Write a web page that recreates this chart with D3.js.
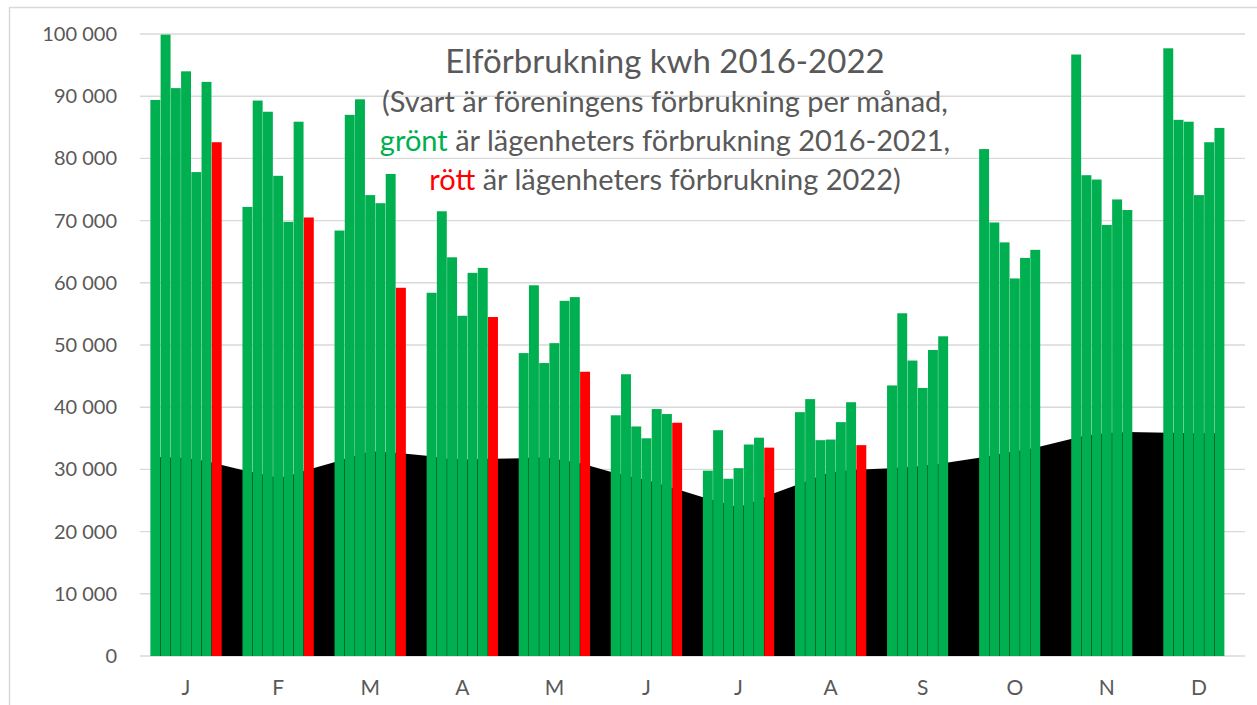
<!DOCTYPE html>
<html>
<head>
<meta charset="utf-8">
<script src="https://cdn.jsdelivr.net/npm/d3@7"></script>
<style>
  body { margin: 0; background: #fff; }
  text { font-family: Lato, "Open Sans", sans-serif; }
</style>
</head>
<body>
<svg id="chart" width="1257" height="705"></svg>
<script>
// months on the x axis, years = bars inside each month
var months = ["J", "F", "M", "A", "M", "J", "J", "A", "S", "O", "N", "D"];
var years = [2016, 2017, 2018, 2019, 2020, 2021, 2022];

// lägenheters förbrukning (kwh), one array per year, Jan..Dec
var lgh2016 = [89400, 72200, 68400, 58400, 48700, 38700, 29800, 39200, 43500, 81500, 96700, 97700];
var lgh2017 = [99900, 89300, 87000, 71500, 59600, 45300, 36300, 41300, 55100, 69700, 77300, 86200];
var lgh2018 = [91300, 87500, 89500, 64100, 47100, 36900, 28500, 34700, 47500, 66500, 76600, 85900];
var lgh2019 = [94000, 77200, 74100, 54700, 50300, 35000, 30200, 34800, 43100, 60700, 69300, 74100];
var lgh2020 = [77800, 69800, 72800, 61600, 57100, 39700, 34000, 37600, 49200, 64000, 73400, 82600];
var lgh2021 = [92300, 85900, 77500, 62400, 57700, 38900, 35100, 40800, 51400, 65300, 71700, 84900];
var lgh2022 = [82600, 70500, 59200, 54500, 45700, 37500, 33500, 33900, null, null, null, null];

// föreningens förbrukning (kwh), the black area
var for2016 = [32000, 29700, 31400, 32100, 31800, 29400, 25300, 27700, 30200, 32000, 35100, 35900];
var for2017 = [31900, 29400, 32000, 31800, 31900, 29000, 24900, 28300, 30350, 32300, 35500, 35900];
var for2018 = [31900, 29000, 32400, 31700, 31900, 28600, 24300, 29000, 30400, 32600, 35600, 35800];
var for2019 = [31800, 28700, 32900, 31600, 31700, 28300, 23900, 29500, 30600, 32900, 35900, 35800];
var for2020 = [31600, 28900, 32800, 31600, 31400, 27800, 24500, 29700, 30800, 33200, 35900, 35800];
var for2021 = [31300, 29500, 32700, 31700, 31200, 27300, 25100, 29900, 31000, 33500, 36000, 35800];
var for2022 = [30900, 30000, 32600, 31700, 30800, 26800, 25900, 30000, null, null, null, null];

var yTicks = [0, 10000, 20000, 30000, 40000, 50000, 60000, 70000, 80000, 90000, 100000];

var lgh = [lgh2016, lgh2017, lgh2018, lgh2019, lgh2020, lgh2021, lgh2022];
var forening = [for2016, for2017, for2018, for2019, for2020, for2021, for2022];

var svg = d3.select("#chart");
var plotLeft = 140, plotRight = 1245, plotTop = 34, plotBottom = 656;
var slotsPerMonth = 9; // gap, 7 years, gap

var x = d3.scaleBand()
  .domain(d3.range(months.length * slotsPerMonth))
  .range([plotLeft, plotRight])
  .padding(0);
var xMonth = d3.scaleBand()
  .domain(d3.range(months.length))
  .range([plotLeft, plotRight]);
var y = d3.scaleLinear().domain([0, 100000]).range([plotBottom, plotTop]);

var bars = [], area = [];
months.forEach(function(m, mi) {
  years.forEach(function(yr, k) {
    var slot = mi * slotsPerMonth + 1 + k;
    if (lgh[k][mi] != null) bars.push({ slot: slot, value: lgh[k][mi], year: yr });
    if (forening[k][mi] != null) area.push({ slot: slot, value: forening[k][mi] });
  });
});

// chart border (cropped frame)
svg.append("path")
  .attr("d", "M9.5,705 V7.5 H1257")
  .attr("fill", "none")
  .attr("stroke", "#d9d9d9")
  .attr("stroke-width", 1.5);

// gridlines
svg.append("g").selectAll("line")
  .data(yTicks)
  .enter().append("line")
    .attr("x1", plotLeft).attr("x2", plotRight)
    .attr("y1", function(d) { return y(d); })
    .attr("y2", function(d) { return y(d); })
    .attr("stroke", "#d9d9d9")
    .attr("stroke-width", 1.4);

// y axis labels
var fmt = d3.formatLocale({ decimal: ",", thousands: " ", grouping: [3], currency: ["", ""] }).format(",d");
var yAxis = svg.append("g")
  .attr("transform", "translate(" + plotLeft + ",0)")
  .call(d3.axisLeft(y).tickValues(yTicks).tickFormat(fmt).tickSize(0).tickPadding(23));
yAxis.select(".domain").remove();
yAxis.selectAll("text")
  .attr("fill", "#595959")
  .style("font-size", "20px")
  .style("font-family", "Lato, 'Open Sans', sans-serif");

// black area
var bw = x.bandwidth();
svg.append("path")
  .datum(area)
  .attr("fill", "#000")
  .attr("d", d3.area()
    .x(function(d) { return x(d.slot) + bw / 2; })
    .y0(y(0))
    .y1(function(d) { return y(d.value); }));

// bars (thin seam between them lets the background show through)
svg.append("g").selectAll("rect")
  .data(bars)
  .enter().append("rect")
    .attr("x", function(d) { return x(d.slot) + 0.15; })
    .attr("width", bw - 0.3)
    .attr("y", function(d) { return y(d.value); })
    .attr("height", function(d) { return y(0) - y(d.value); })
    .attr("fill", function(d) { return d.year === 2022 ? "#ff0000" : "#00b050"; });

// month labels
var xAxis = svg.append("g")
  .attr("transform", "translate(0," + plotBottom + ")")
  .call(d3.axisBottom(xMonth).tickSize(0).tickPadding(24)
    .tickFormat(function(i) { return months[i]; }));
xAxis.select(".domain").remove();
xAxis.selectAll("text")
  .attr("fill", "#595959")
  .style("font-size", "21px")
  .style("font-family", "Lato, 'Open Sans', sans-serif");

// title
var cx = 665;
svg.append("text")
  .attr("x", cx).attr("y", 73)
  .attr("text-anchor", "middle")
  .attr("fill", "#595959")
  .style("font-size", "33px")
  .text("Elförbrukning kwh 2016-2022");

var sub = svg.append("g")
  .attr("fill", "#595959")
  .style("font-size", "29px")
  .attr("text-anchor", "middle");
sub.append("text").attr("x", cx).attr("y", 112)
  .text("(Svart är föreningens förbrukning per månad,");
var l2 = sub.append("text").attr("x", cx).attr("y", 151);
l2.append("tspan").attr("fill", "#00b050").text("grönt");
l2.append("tspan").text(" är lägenheters förbrukning 2016-2021,");
var l3 = sub.append("text").attr("x", cx).attr("y", 190);
l3.append("tspan").attr("fill", "#ff0000").text("rött");
l3.append("tspan").text(" är lägenheters förbrukning 2022)");
</script>
</body>
</html>
